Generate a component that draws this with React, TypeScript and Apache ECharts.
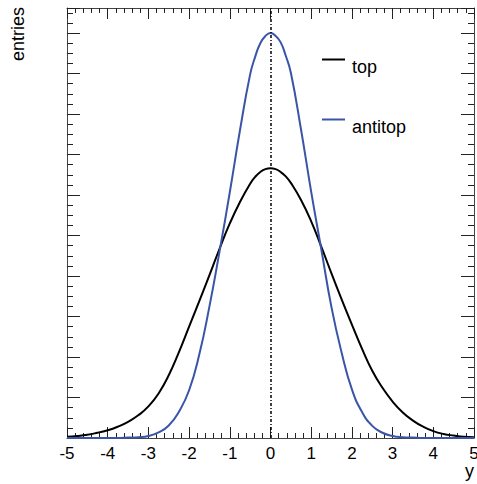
import React, { useEffect, useRef } from "react";
import * as echarts from "echarts";

const X_VALUES = [
  -5, -4.75, -4.5, -4.25, -4, -3.75, -3.5, -3.25, -3, -2.75, -2.5, -2.25, -2, -1.75, -1.5, -1.25, -1, -0.75, -0.5, -0.375, -0.25, -0.125,
  0, 0.125, 0.25, 0.375, 0.5, 0.75, 1, 1.25, 1.5, 1.75, 2, 2.25, 2.5, 2.75, 3, 3.25, 3.5, 3.75, 4, 4.25, 4.5, 4.75, 5,
];

const TOP_VALUES = [
  0.03, 0.05, 0.08, 0.13, 0.19, 0.28, 0.4, 0.56, 0.78, 1.1, 1.55, 2.12, 2.75, 3.38, 4.02, 4.68, 5.3, 5.83, 6.28, 6.45, 6.57, 6.64,
  6.66, 6.64, 6.57, 6.46, 6.3, 5.88, 5.35, 4.72, 4.06, 3.42, 2.8, 2.2, 1.66, 1.24, 0.9, 0.63, 0.43, 0.28, 0.17, 0.1, 0.06, 0.03, 0.02,
];

const ANTITOP_VALUES = [
  0, 0, 0, 0, 0, 0, 0.01, 0.02, 0.05, 0.14, 0.31, 0.65, 1.18, 2.06, 3.25, 4.62, 6.07, 7.6, 8.98, 9.42, 9.75, 9.93,
  10.0, 9.93, 9.77, 9.44, 9.02, 7.62, 6.08, 4.65, 3.22, 2.1, 1.2, 0.64, 0.3, 0.13, 0.05, 0.02, 0.01, 0, 0, 0, 0, 0, 0,
];

const SERIES_NAMES = ["top", "antitop"];
const SERIES_COLORS = ["#000000", "#3a55a8"];
const X_AXIS_TITLE = "y";
const Y_AXIS_TITLE = "entries";

const FONT = "'Liberation Sans', Arial, Helvetica, sans-serif";

export default function App() {
  const ref = useRef<HTMLDivElement>(null);

  useEffect(() => {
    if (!ref.current) return;
    const chart = echarts.init(ref.current, null, { renderer: "svg" });

    const xBase = {
      type: "value" as const,
      min: -5,
      max: 5,
      interval: 1,
      splitLine: { show: false },
      axisLine: { show: true, onZero: false, lineStyle: { color: "#444", width: 1 } },
      axisTick: { show: true, inside: true, length: 11, lineStyle: { color: "#222", width: 1 } },
      minorTick: { show: true, splitNumber: 5, length: 5, lineStyle: { color: "#222", width: 1 } },
    };
    const yBase = {
      type: "value" as const,
      min: 0,
      max: 10.62,
      interval: 1,
      splitLine: { show: false },
      axisLabel: { show: false },
      axisLine: { show: true, onZero: false, lineStyle: { color: "#444", width: 1 } },
      axisTick: { show: true, inside: true, length: 13, lineStyle: { color: "#222", width: 1 } },
      minorTick: { show: true, splitNumber: 4, length: 6, lineStyle: { color: "#222", width: 1 } },
    };

    const valuesList = [TOP_VALUES, ANTITOP_VALUES];

    chart.setOption({
      animation: false,
      backgroundColor: "#ffffff",
      textStyle: { fontFamily: FONT },
      grid: { left: 67, right: 3, top: 8, bottom: 46, containLabel: false, outerBoundsMode: "none" },
      xAxis: [
        {
          ...xBase,
          position: "bottom",
          axisLabel: { show: true, fontSize: 17, color: "#000", margin: 7, fontFamily: FONT, hideOverlap: false },
        },
        { ...xBase, position: "top", axisLabel: { show: false } },
      ],
      yAxis: [
        { ...yBase, position: "left" },
        { ...yBase, position: "right" },
      ],
      series: SERIES_NAMES.map((name, i) => ({
        name,
        type: "line",
        xAxisIndex: 0,
        yAxisIndex: 0,
        data: X_VALUES.map((x, j) => [x, valuesList[i][j]]),
        smooth: true,
        showSymbol: false,
        symbol: "none",
        lineStyle: { color: SERIES_COLORS[i], width: 2 },
        itemStyle: { color: SERIES_COLORS[i] },
        z: 3 + i,
        ...(i === 0
          ? {
              markLine: {
                silent: true,
                symbol: ["none", "none"],
                label: { show: false },
                lineStyle: { color: "#000", width: 1.5, type: [3, 2, 1, 2] },
                data: [{ xAxis: 0 }],
              },
            }
          : {}),
      })),
      graphic: [
        ...SERIES_NAMES.flatMap((name, i) => [
          {
            type: "line",
            shape: { x1: 322, y1: 59.5 + i * 60, x2: 345, y2: 59.5 + i * 60 },
            style: { stroke: SERIES_COLORS[i], lineWidth: 2 },
          },
          {
            type: "text",
            x: 352,
            y: 67 + i * 60,
            style: { text: name, fontSize: 18, fontFamily: FONT, fill: "#000", align: "left", verticalAlign: "middle" },
          },
        ]),
        {
          type: "text",
          x: 18,
          y: 7,
          rotation: Math.PI / 2,
          style: { text: Y_AXIS_TITLE, fontSize: 18, fontFamily: FONT, fill: "#000", align: "right", verticalAlign: "middle" },
        },
        {
          type: "text",
          x: 474,
          y: 471,
          style: { text: X_AXIS_TITLE, fontSize: 18, fontFamily: FONT, fill: "#000", align: "right", verticalAlign: "middle" },
        },
      ],
    });

    return () => chart.dispose();
  }, []);

  return (
    <div
      ref={ref}
      style={{ position: "fixed", left: 0, top: 0, width: 477, height: 484, background: "#fff" }}
    />
  );
}
